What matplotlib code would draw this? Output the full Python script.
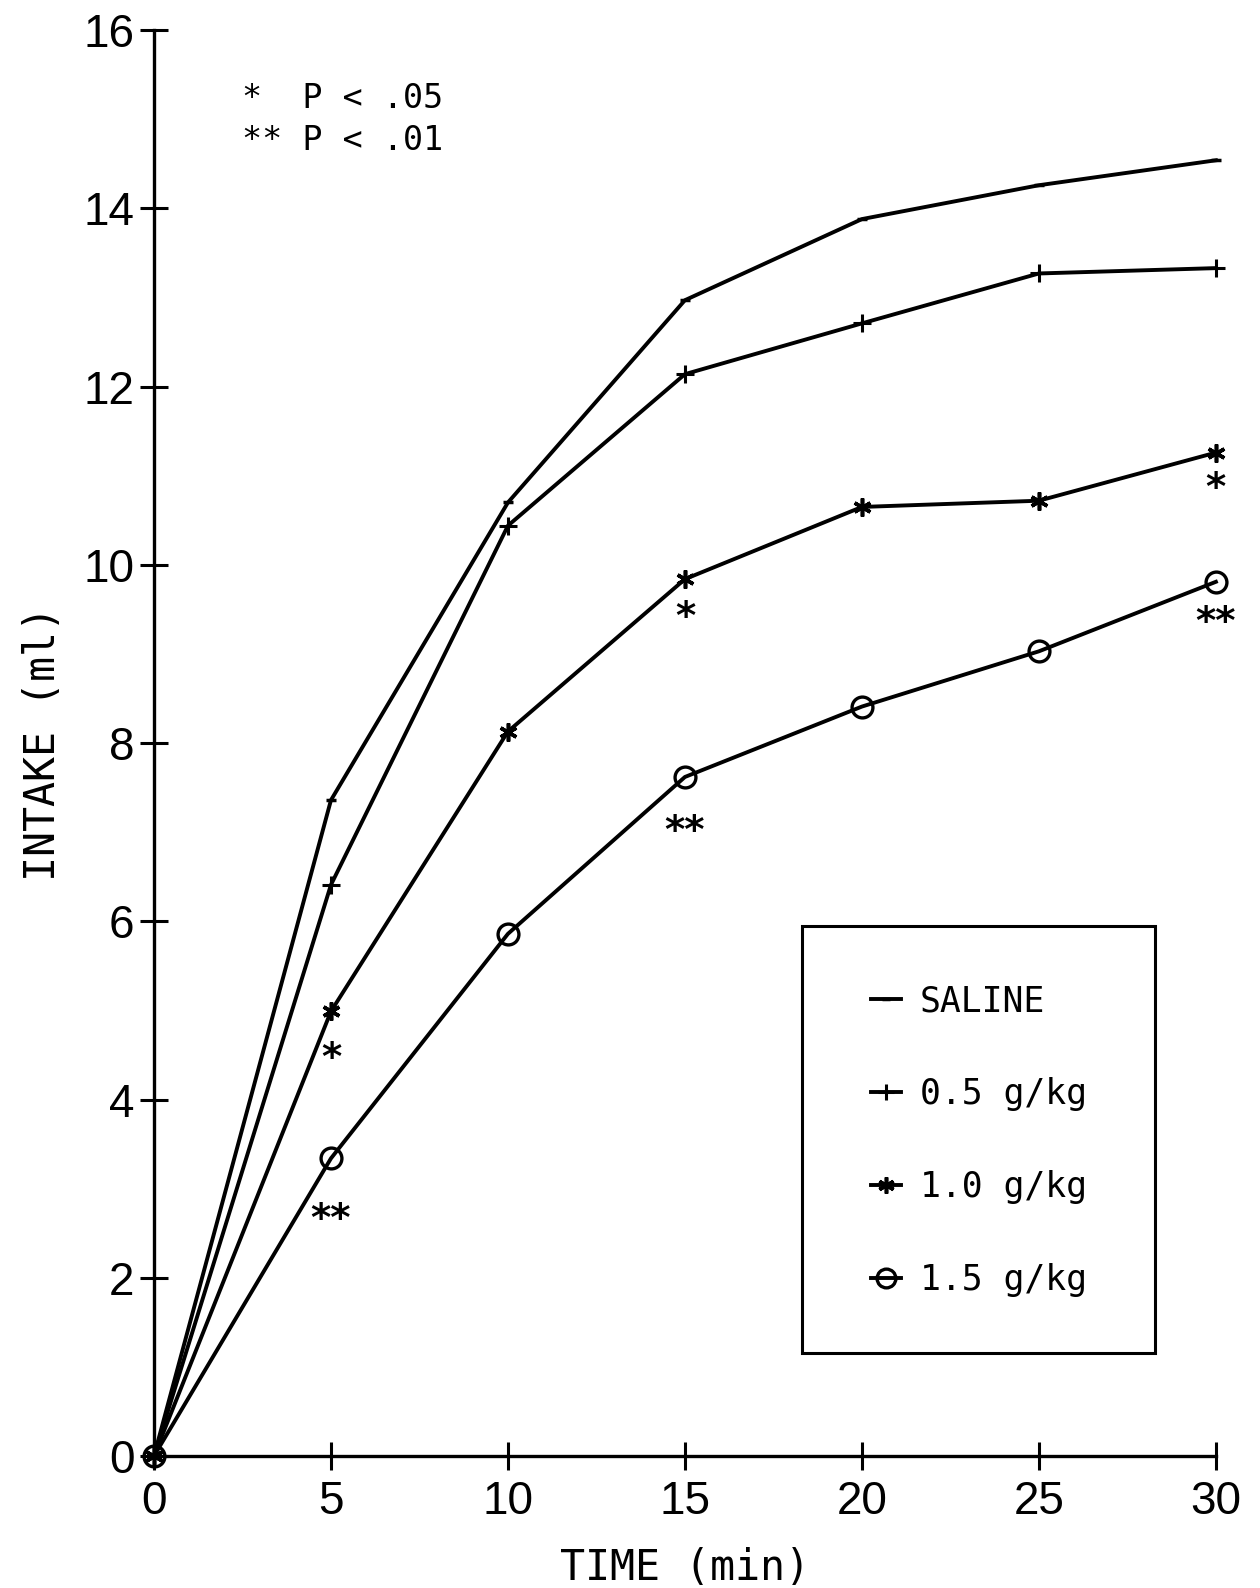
import matplotlib
matplotlib.use("Agg")
import matplotlib.pyplot as plt
from matplotlib.patches import Rectangle

time = [0, 5, 10, 15, 20, 25, 30]
saline = [0, 7.36, 10.70, 12.97, 13.88, 14.26, 14.54]
dose_05 = [0, 6.41, 10.44, 12.14, 12.71, 13.27, 13.33]
dose_10 = [0, 4.99, 8.13, 9.84, 10.65, 10.72, 11.26]
dose_15 = [0, 3.34, 5.86, 7.62, 8.41, 9.03, 9.81]
labels = ["SALINE", "0.5 g/kg", "1.0 g/kg", "1.5 g/kg"]

# significance marks: (time, y position, text)
sig_x = [5, 5, 15, 15, 30, 30]
sig_y = [4.45, 2.65, 9.4, 7.0, 10.85, 9.35]
sig_text = ["*", "**", "*", "**", "*", "**"]

xticks = [0, 5, 10, 15, 20, 25, 30]
yticks = [0, 2, 4, 6, 8, 10, 12, 14, 16]

plt.rcParams['font.family'] = ['Liberation Sans', 'DejaVu Sans']
MONO = ['DejaVu Sans Mono', 'DejaVu Sans']

fig = plt.figure(figsize=(12.6, 15.88), dpi=100)
ax = fig.add_axes([0.1222, 0.0831, 0.8428, 0.8979])

lw = 2.8
ax.plot(time, saline, color='black', lw=lw, marker='_', ms=7, mew=2.5, clip_on=False, label=labels[0])
ax.plot(time, dose_05, color='black', lw=lw, marker='+', ms=13, mew=2.2, clip_on=False, label=labels[1])
ax.plot(time, dose_10, color='black', lw=lw, marker=(6, 2, 0), ms=13, mew=2.6, clip_on=False, label=labels[2])
ax.plot(time, dose_15, color='black', lw=lw, marker='o', ms=15, mew=2.4, mfc='none', clip_on=False, label=labels[3])

for x, y, t in zip(sig_x, sig_y, sig_text):
    ax.text(x, y, t, ha='center', va='center', fontsize=28, fontweight='bold',
            family=['DejaVu Sans'])

ax.set_xlim(0, 30)
ax.set_ylim(0, 16)
ax.set_xticks(xticks)
ax.set_yticks(yticks)
ax.tick_params(direction='inout', length=20, width=2.2, labelsize=33)
ax.tick_params(axis='x', pad=7)
ax.tick_params(axis='y', pad=4)
for s in ['top', 'right']:
    ax.spines[s].set_visible(False)
for s in ['left', 'bottom']:
    ax.spines[s].set_linewidth(2.4)

ax.set_xlabel("TIME (min)", fontsize=30, labelpad=17, family=MONO)
ax.set_ylabel("INTAKE (ml)", fontsize=30, labelpad=14, family=MONO)

ax.text(0.083, 0.9453, "*  P < .05", transform=ax.transAxes, fontsize=24, va='baseline', family=MONO)
ax.text(0.083, 0.9158, "** P < .01", transform=ax.transAxes, fontsize=24, va='baseline', family=MONO)

ax.add_patch(Rectangle((0.61, 0.0722), 0.333, 0.2998, transform=ax.transAxes,
                       fill=False, edgecolor='black', lw=2.2, clip_on=False))
leg = ax.legend(loc='center left', bbox_to_anchor=(0.675, 0.2210),
                prop={'family': MONO, 'size': 25}, frameon=False,
                handlelength=0.87, handletextpad=0.55, labelspacing=1.7, borderpad=0,
                borderaxespad=0, numpoints=1, markerscale=0.9)

fig.savefig("out.png", dpi=100)
